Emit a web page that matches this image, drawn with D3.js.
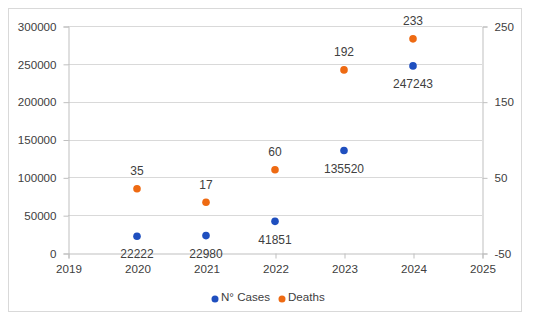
<!DOCTYPE html>
<html><head><meta charset="utf-8">
<script src="https://cdn.jsdelivr.net/npm/d3@7"></script>
<style>body{margin:0;background:#fff;}svg{display:block;font-family:"Liberation Sans",Arial,sans-serif;}</style>
</head><body><svg id="c" width="533" height="320"></svg>
<script>
const years = [2020, 2021, 2022, 2023, 2024];
const cases = [22222, 22980, 41851, 135520, 247243];
const deaths = [35, 17, 60, 192, 233];
const leftTicks = [0, 50000, 100000, 150000, 200000, 250000, 300000];
const rightTicks = [-50, 50, 150, 250];
const xTicks = [2019, 2020, 2021, 2022, 2023, 2024, 2025];
const seriesNames = ["N° Cases", "Deaths"];
const colors = ["#1f4fbf", "#ee6a12"];

const svg = d3.select("#c");
const L = 68, R = 482, T = 26, B = 253;
const x = d3.scaleLinear().domain([2019, 2025]).range([L, R]);
const yL = d3.scaleLinear().domain([0, 300000]).range([B, T]);
const yR = d3.scaleLinear().domain([-50, 250]).range([B, T]);
const textCol = "#404040";
const fmt = d => String(d);

svg.append("rect").attr("x", 8.5).attr("y", 8.5).attr("width", 513).attr("height", 303)
  .attr("fill", "#fff").attr("stroke", "#d9d9d9");

// gridlines
svg.append("g").selectAll("line").data(leftTicks.slice(1)).join("line")
  .attr("x1", L).attr("x2", R).attr("y1", d => Math.round(yL(d)) + 0.5).attr("y2", d => Math.round(yL(d)) + 0.5)
  .attr("stroke", "#d9d9d9");

// left axis
const gl = svg.append("g").attr("transform", `translate(${L + 0.5},0.5)`)
  .call(d3.axisLeft(yL).tickValues(leftTicks).tickFormat(fmt).tickSize(5).tickPadding(7));
// right axis
const gr = svg.append("g").attr("transform", `translate(${R + 0.5},0.5)`)
  .call(d3.axisRight(yR).tickValues(rightTicks).tickFormat(fmt).tickSize(5).tickPadding(7));
// bottom axis
const gb = svg.append("g").attr("transform", `translate(0.5,${B + 0.5})`)
  .call(d3.axisBottom(x).tickValues(xTicks).tickFormat(fmt).tickSize(5).tickPadding(6));
[gl, gr, gb].forEach(g => {
  g.select(".domain").attr("stroke", "#bfbfbf");
  g.selectAll(".tick line").attr("stroke", "#bfbfbf");
  g.selectAll("text").attr("fill", textCol).style("font-size", "11.6px").style("font-family", "Liberation Sans, Arial, sans-serif");
});

// points
const cg = svg.append("g");
cg.selectAll("circle.c").data(years).join("circle").attr("class", "c")
  .attr("cx", (d) => x(d)).attr("cy", (d, i) => yL(cases[i])).attr("r", 3.8).attr("fill", colors[0]);
cg.selectAll("circle.d").data(years).join("circle").attr("class", "d")
  .attr("cx", (d) => x(d)).attr("cy", (d, i) => yR(deaths[i])).attr("r", 3.8).attr("fill", colors[1]);
cg.selectAll("text.c").data(years).join("text").attr("class", "c")
  .attr("x", d => x(d)).attr("y", (d, i) => yL(cases[i]) + 18).attr("dy", "0.35em")
  .attr("text-anchor", "middle").attr("fill", textCol).style("font-size", "12px").text((d, i) => cases[i]);
cg.selectAll("text.d").data(years).join("text").attr("class", "d")
  .attr("x", d => x(d)).attr("y", (d, i) => yR(deaths[i]) - 18).attr("dy", "0.35em")
  .attr("text-anchor", "middle").attr("fill", textCol).style("font-size", "12px").text((d, i) => deaths[i]);

// legend
const leg = svg.append("g");
const lx = [215, 282];
seriesNames.forEach((n, i) => {
  leg.append("circle").attr("cx", lx[i]).attr("cy", 299).attr("r", 3.5).attr("fill", colors[i]);
  leg.append("text").attr("x", lx[i] + 6).attr("y", 297).attr("dy", "0.35em")
    .attr("fill", textCol).style("font-size", "11.6px").text(n);
});
</script></body></html>
